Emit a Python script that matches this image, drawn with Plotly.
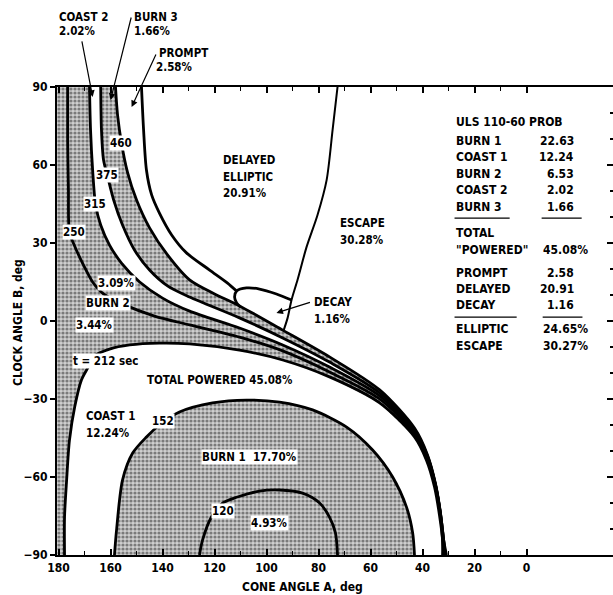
import plotly.graph_objects as go

# ---------------------------------------------------------------
# Equal-time contours t (sec) on cone angle A (deg) / clock angle B (deg)
# ---------------------------------------------------------------
t120_A = [125.8, 124.6, 121.2, 116.9, 111.2, 102.7, 95.0, 86.2, 79.6, 75.8, 73.5, 72.7]
t120_B = [-90.0, -84.2, -75.4, -70.0, -67.7, -65.4, -65.0, -66.2, -70.0, -75.4, -81.5, -90.0]

t152_A = [158.5, 157.7, 155.4, 151.5, 146.2, 141.2, 133.5, 120.8, 107.7, 95.0, 82.3,
          69.2, 59.2, 51.5, 46.2, 43.8, 43.1]
t152_B = [-90.0, -80.4, -61.2, -50.8, -44.6, -40.0, -35.0, -31.5, -30.4, -31.2, -34.2,
          -40.8, -49.6, -60.0, -71.5, -81.5, -90.0]

t212_A = [177.7, 177.7, 176.9, 175.8, 173.8, 171.2, 168.8, 166.2, 160.4, 152.7, 141.2,
          129.6, 110.4, 93.8, 75.8, 56.5, 43.1, 38.5, 35.4, 33.5, 32.3, 32.3]
t212_B = [-90.0, -75.4, -61.2, -45.8, -33.1, -22.7, -18.1, -13.5, -10.8, -9.2, -8.5,
          -8.8, -11.2, -15.0, -21.5, -31.5, -44.6, -53.5, -63.8, -74.6, -84.2, -90.0]

t250_A = [176.5, 176.5, 176.2, 175.8, 173.5, 170.4, 166.9, 162.7, 154.6, 143.1, 129.6,
          110.4, 93.8, 75.8, 56.5, 43.1, 38.1, 35.0, 33.1, 32.3, 31.9]
t250_B = [90.0, 69.6, 50.4, 34.2, 28.1, 21.5, 15.0, 10.4, 6.2, 1.9, -1.5,
          -6.2, -11.5, -19.6, -30.0, -43.5, -52.7, -63.5, -74.6, -84.2, -90.0]

t315_A = [168.1, 167.7, 166.9, 165.8, 163.8, 160.4, 155.8, 148.8, 140.0, 129.6,
          110.4, 93.8, 75.8, 56.5, 43.1, 38.1, 35.0, 33.1, 31.9, 31.5]
t315_B = [90.0, 73.5, 58.1, 45.0, 36.9, 29.2, 22.3, 15.0, 8.8, 3.8,
          -2.7, -9.2, -17.7, -28.8, -42.7, -52.3, -63.1, -74.2, -84.2, -90.0]

t375_A = [163.8, 163.5, 162.7, 161.2, 158.8, 155.4, 150.8, 145.0, 138.1, 129.6,
          110.4, 93.8, 75.8, 56.5, 43.1, 38.1, 35.0, 33.1, 31.9, 31.2]
t375_B = [90.0, 73.5, 61.9, 55.8, 46.5, 36.9, 27.3, 19.6, 13.5, 9.2,
          1.2, -6.5, -15.8, -27.7, -41.9, -51.9, -63.1, -74.2, -84.2, -90.0]

t460_A = [158.1, 157.3, 155.8, 153.5, 150.0, 145.0, 138.1, 129.6, 120.0, 110.4,
          93.8, 75.8, 56.5, 43.1, 38.1, 35.0, 33.1, 31.9, 30.8]
t460_B = [90.0, 79.2, 68.5, 57.3, 46.5, 35.8, 25.4, 15.8, 10.4, 5.8,
          -3.5, -13.8, -26.5, -41.2, -51.5, -62.7, -73.8, -84.2, -90.0]

# Prompt / delayed elliptic boundary
prompt_A = [148.1, 147.3, 146.2, 144.2, 141.2, 136.5, 130.8, 121.9, 115.0, 111.5]
prompt_B = [90.0, 73.5, 58.1, 48.5, 41.5, 33.1, 26.2, 19.6, 14.6, 11.5]

# Decay pocket
decay_A = [110.0, 111.5, 112.3, 111.5, 107.7, 102.7, 96.2, 90.4]
decay_B = [5.4, 6.9, 9.2, 11.5, 12.7, 12.3, 10.4, 8.1]

# Elliptic / escape boundary
escape_A = [72.7, 74.6, 76.9, 80.4, 84.6, 88.1, 90.4, 91.9, 93.5]
escape_B = [90.0, 73.5, 54.2, 40.8, 28.5, 15.8, 8.1, 1.2, -3.8]

# Axis ticks
x_ticks = [180, 160, 140, 120, 100, 80, 60, 40, 20, 0]
x_minor = [170, 150, 130, 110, 90, 70, 50, 30, 10]
y_ticks = [-90, -60, -30, 0, 30, 60, 90]

# Phase probabilities (%)
burn1_outer, burn1_inner = 17.70, 4.93
coast1_pct = 12.24
burn2_low, burn2_high = 3.44, 3.09
coast2_pct, burn3_pct = 2.02, 1.66
prompt_pct, delayed_pct, decay_pct, escape_pct = 2.58, 20.91, 1.16, 30.28
powered_pct = 45.08

# Summary table
table_title = "ULS 110-60 PROB"
phase_names = ["BURN 1", "COAST 1", "BURN 2", "COAST 2", "BURN 3"]
phase_vals = ["22.63", "12.24", "6.53", "2.02", "1.66"]
orbit_names = ["PROMPT", "DELAYED", "DECAY"]
orbit_vals = ["2.58", "20.91", "1.16"]
result_names = ["ELLIPTIC", "ESCAPE"]
result_vals = ["24.65%", "30.27%"]
total_powered = "45.08%"

FONT = "Liberation Sans Narrow, DejaVu Sans Condensed, Arial Narrow, sans-serif"
LBL = 11.5      # in-plot lettering
TBL = 12        # table lettering
STIPPLE = dict(shape=".", fgcolor="#262626", bgcolor="#cfcfcf", size=4, solidity=0.5)

fig = go.Figure()


def shaded(A, B):
    fig.add_trace(go.Scatter(
        x=A, y=B, mode="lines", fill="toself", fillcolor="#a8a8a8",
        fillpattern=STIPPLE, line=dict(width=0), hoverinfo="skip", showlegend=False))


def contour(A, B, w=2.8):
    fig.add_trace(go.Scatter(
        x=A, y=B, mode="lines",
        line=dict(color="black", width=w, shape="spline", smoothing=0.8),
        hoverinfo="skip", showlegend=False))


# Burn 1: inside t = 152
shaded(t152_A, t152_B)
# Burn 2: between t = 212 and t = 315, closed along the left frame
shaded(t315_A + t212_A[::-1] + [182, 182], t315_B + t212_B[::-1] + [-90, 90])
# Burn 3: between t = 375 and t = 460
shaded(t460_A + t375_A[::-1], t460_B + t375_B[::-1])

for A, B in [(t120_A, t120_B), (t152_A, t152_B), (t212_A, t212_B), (t250_A, t250_B),
             (t315_A, t315_B), (t375_A, t375_B), (t460_A, t460_B),
             (prompt_A, prompt_B), (decay_A, decay_B)]:
    contour(A, B)
contour(escape_A, escape_B, w=2.0)

# carrier for the right-hand tick scale
fig.add_trace(go.Scatter(x=[0], y=[0], yaxis="y2", mode="markers",
                         marker=dict(opacity=0), hoverinfo="skip", showlegend=False))

ann = []


def label(text, A, B, anchor="center", box=False, size=LBL, ref="data"):
    r = ("x", "y") if ref == "data" else ("paper", "paper")
    ann.append(dict(text=text, x=A, y=B, xref=r[0], yref=r[1], showarrow=False,
                    xanchor=anchor, yanchor="middle",
                    font=dict(family=FONT, size=size, color="black", weight="bold"),
                    bgcolor="white" if box else None, borderpad=0))


# contour time labels
label("460", 155.8, 68.5, box=True)
label("375", 161.2, 56.2, box=True)
label("315", 165.8, 45.0, box=True)
label("250", 174.2, 34.2, box=True)
label("t = 212 sec", 161.9, -15.4, box=True)
label("152", 140.0, -38.5, box=True)
label("120", 116.9, -73.1, box=True)

# region labels
label(f"{burn2_high:.2f}%", 157.7, 14.6, box=True)
label("BURN 2", 160.8, 6.9, box=True)
label(f"{burn2_low:.2f}%", 166.2, -1.5, box=True)
label(f"TOTAL POWERED {powered_pct:.2f}%", 118.1, -22.7)
label("COAST 1", 170.0, -36.5, anchor="left")
label(f"{coast1_pct:.2f}%", 170.0, -43.1, anchor="left")
label(f"BURN 1  {burn1_outer:.2f}%", 106.5, -52.3, box=True)
label(f"{burn1_inner:.2f}%", 98.8, -77.7, box=True)
label("DELAYED", 117.3, 61.9, anchor="left")
label("ELLIPTIC", 117.3, 55.4, anchor="left")
label(f"{delayed_pct:.2f}%", 117.3, 49.2, anchor="left")
label("ESCAPE", 72.3, 37.7, anchor="left")
label(f"{escape_pct:.2f}%", 72.3, 31.2, anchor="left")
label("DECAY", 82.3, 7.3, anchor="left")
label(f"{decay_pct:.2f}%", 82.3, 0.8, anchor="left")

# labels above the frame
label("COAST 2", 0.002, 1.1496, anchor="left", ref="paper")
label(f"{coast2_pct:.2f}%", 0.002, 1.1197, anchor="left", ref="paper")
label("BURN 3", 0.1367, 1.1496, anchor="left", ref="paper")
label(f"{burn3_pct:.2f}%", 0.1367, 1.1197, anchor="left", ref="paper")
label("PROMPT", 0.1817, 1.0726, anchor="left", ref="paper")
label(f"{prompt_pct:.2f}%", 0.1763, 1.0427, anchor="left", ref="paper")

# leader arrows
for hx, hy, ax, ay in [(166.9, 86.2, -11, -57), (160.0, 85.0, 21, -84),
                       (151.9, 82.3, 25, -54), (96.2, 3.1, 35, -11)]:
    ann.append(dict(text="", x=hx, y=hy, xref="x", yref="y", ax=ax, ay=ay,
                    showarrow=True, arrowhead=2, arrowsize=1.1, arrowwidth=1.2,
                    arrowcolor="black", standoff=0, startstandoff=0))

# summary table
label(table_title, 27.7, 76.5, anchor="left", size=TBL)
row_B = [69.2, 63.0, 56.5, 50.2, 44.0]
for name, val, b in zip(phase_names, phase_vals, row_B):
    label(name, 27.7, b, anchor="left", size=TBL)
    label(val, -18.5, b, anchor="right", size=TBL)
label("TOTAL", 27.7, 33.7, anchor="left", size=TBL)
label('"POWERED"', 27.7, 27.3, anchor="left", size=TBL)
label(total_powered, -5.8, 27.3, anchor="left", size=TBL)
for name, val, b in zip(orbit_names, orbit_vals, [18.6, 12.2, 6.1]):
    label(name, 27.7, b, anchor="left", size=TBL)
    label(val, -18.5, b, anchor="right", size=TBL)
for name, val, b in zip(result_names, result_vals, [-3.2, -9.5]):
    label(name, 27.7, b, anchor="left", size=TBL)
    label(val, -5.8, b, anchor="left", size=TBL)

# axis titles
ann.append(dict(text="CONE ANGLE A, deg", x=0.4424, y=-0.068, xref="paper", yref="paper",
                showarrow=False, xanchor="center", yanchor="middle",
                font=dict(family=FONT, size=12, color="black", weight="bold")))
ann.append(dict(text="CLOCK ANGLE B, deg", x=-0.070, y=0.496, xref="paper", yref="paper",
                showarrow=False, xanchor="center", yanchor="middle", textangle=-90,
                font=dict(family=FONT, size=12, color="black", weight="bold")))

shapes = []
for a0, a1, b in [(27.7, 6.5, 39.6), (-5.8, -21.2, 39.6), (27.7, 3.8, 1.5), (-6.2, -21.5, 1.5)]:
    shapes.append(dict(type="line", xref="x", yref="y", x0=a0, x1=a1, y0=b, y1=b,
                       line=dict(color="black", width=1.3)))

fig.update_layout(
    width=613, height=595, margin=dict(l=57, r=0, t=87, b=40),
    paper_bgcolor="white", plot_bgcolor="white", showlegend=False,
    font=dict(family=FONT, size=12, color="black", weight="bold"),
    annotations=ann, shapes=shapes,
    xaxis=dict(range=[180.6, -33.25], tickvals=x_ticks, ticks="inside", ticklen=6,
               tickwidth=1.5, tickcolor="black", showline=True, linewidth=2,
               linecolor="black", mirror="ticks", showgrid=False, zeroline=False,
               ticklabelstandoff=1,
               minor=dict(tickvals=x_minor, ticks="inside", ticklen=4, tickwidth=1.2,
                          tickcolor="black")),
    yaxis=dict(range=[-90, 90], tickvals=y_ticks, ticks="outside", ticklen=5,
               tickwidth=1.5, tickcolor="black", showline=True, linewidth=2,
               linecolor="black", showgrid=False, zeroline=False),
    yaxis2=dict(range=[-90, 90], overlaying="y", side="right", tickvals=y_ticks,
                ticks="inside", ticklen=6, tickwidth=1.5, tickcolor="black",
                showticklabels=False, showline=False, showgrid=False, zeroline=False,
                minor=dict(dtick=10, ticks="inside", ticklen=3, tickcolor="black")),
)

fig.write_html("out.html")
